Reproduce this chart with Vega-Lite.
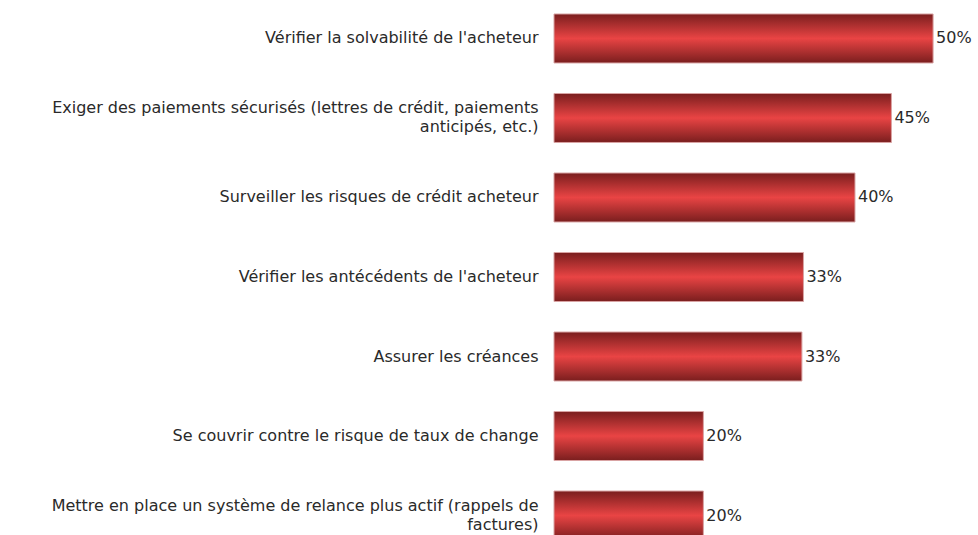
{
  "$schema": "https://vega.github.io/schema/vega-lite/v6.json",
  "autosize": "none",
  "padding": {"left": 554, "top": 0, "right": 7, "bottom": 0},
  "width": 417,
  "height": 554,
  "background": "white",
  "config": {"view": {"stroke": null}, "font": "DejaVu Sans"},
  "data": {
    "values": [
      {"action": "Vérifier la solvabilité de l'acheteur", "value": 0.50},
      {"action": "Exiger des paiements sécurisés (lettres de crédit, paiements|anticipés, etc.)", "value": 0.445},
      {"action": "Surveiller les risques de crédit acheteur", "value": 0.397},
      {"action": "Vérifier les antécédents de l'acheteur", "value": 0.329},
      {"action": "Assurer les créances", "value": 0.327},
      {"action": "Se couvrir contre le risque de taux de change", "value": 0.197},
      {"action": "Mettre en place un système de relance plus actif (rappels de|factures)", "value": 0.197}
    ]
  },
  "encoding": {
    "y": {
      "field": "action",
      "type": "nominal",
      "sort": null,
      "scale": {"paddingInner": 0.384, "paddingOuter": 0.176},
      "axis": {
        "title": null,
        "domain": false,
        "ticks": false,
        "labelPadding": 16,
        "labelFont": "DejaVu Sans",
        "labelFontSize": 16,
        "labelColor": "#2a2a2a",
        "labelLimit": 600,
        "labelLineHeight": 19,
        "labelAlign": "right",
        "labelOffset": {"expr": "indexof(datum.value, '|') >= 0 ? -10 : 0"},
        "labelExpr": "split(datum.label, '|')"
      }
    },
    "x": {
      "field": "value",
      "type": "quantitative",
      "scale": {"domain": [0, 0.55]},
      "axis": null
    }
  },
  "layer": [
    {
      "mark": {
        "type": "bar",
        "stroke": "#d9a3a3",
        "strokeWidth": 1,
        "color": {
          "gradient": "linear",
          "x1": 0, "y1": 0, "x2": 0, "y2": 1,
          "stops": [
            {"offset": 0, "color": "#7a1e1e"},
            {"offset": 0.5, "color": "#e94444"},
            {"offset": 1, "color": "#7a1e1e"}
          ]
        }
      }
    },
    {
      "mark": {"type": "text", "align": "left", "dx": 3, "fontSize": 16, "font": "DejaVu Sans", "color": "#2a2a2a"},
      "encoding": {
        "text": {"field": "value", "type": "quantitative", "format": ".0%"}
      }
    }
  ]
}
